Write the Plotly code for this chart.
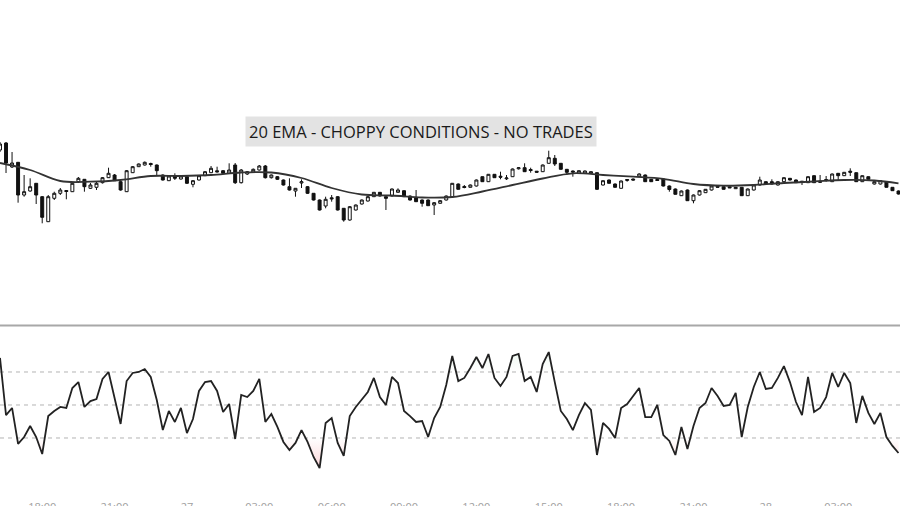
import plotly.graph_objects as go

# ---------------- data ----------------
opens = [150, 157, 133, 137.7, 105, 109, 116.7, 103.3, 78.3, 101.7,
         106.7, 109.5, 108.3, 118.3, 120.7, 111.7, 112.7, 117.3, 122.3, 125,
         118.3, 108.3, 127.3, 133.3, 135, 136.5, 135, 125, 119.3, 124.3,
         121, 123.3, 115.7, 120, 124.3, 127.3, 129.2, 129.3, 126.7, 135,
         117.3, 126, 128, 130, 134, 122.3, 123.3, 120, 113.3, 109,
         117, 113.3, 106.7, 100, 94, 102.2, 103.3, 91.7, 80, 90,
         96, 99, 103.3, 107.7, 103.3, 104, 107.7, 109.3, 104, 102.3,
         100, 100, 95, 96.7, 100, 103.3, 116, 113.5, 112.7, 114,
         123.3, 118.3, 125.7, 123.8, 121.2, 123.3, 131.2, 132.3, 130.5, 128.8,
         128.3, 136.7, 141.7, 136.7, 130.7, 129, 126.7, 126.7, 126.7, 127.3,
         115, 120, 116, 111.7, 119.5, 121, 123.3, 125, 120.7, 120.5,
         121, 114, 111, 104.3, 110, 99.3, 105, 107.3, 110, 113.8,
         113.3, 113.2, 111.3, 112.7, 104.3, 110, 115, 118.3, 118.3, 115,
         118.3, 121.7, 120, 118.8, 117.3, 124.3, 118.8, 120.5, 118.3, 126.7,
         124.3, 128.8, 127.3, 118.3, 123.3, 116, 116, 118.3, 112.7, 109]
highs = [158, 158, 148, 138, 125, 121.7, 117, 104, 105, 108.3,
         112, 110, 118, 123, 121, 117, 118.3, 123, 132.3, 126,
         119, 130, 134, 136.5, 138.5, 137.3, 135.5, 125.5, 124.5, 126.7,
         124.5, 124, 120, 125, 129, 134, 133.3, 130, 136.7, 137,
         131, 129, 131.5, 135, 135, 125.5, 124, 120.5, 121.7, 112,
         120.7, 114, 107, 100.5, 103.3, 105, 104, 92, 94, 95.5,
         100.5, 104, 108, 108, 103.5, 111.5, 111.7, 109.5, 104.5, 110,
         100.5, 100.5, 98, 100, 104.5, 117, 116.5, 115, 115.5, 120.5,
         123.5, 126, 126, 128.3, 125, 131.5, 133, 136.7, 132.3, 129,
         135.5, 149.3, 145, 137, 131, 129.5, 129.5, 129.5, 128.5, 127.5,
         119.5, 120.5, 116.5, 119.5, 121, 121.5, 126.7, 125.5, 121, 121,
         121.5, 114.5, 111.5, 109.5, 110.5, 105.5, 110, 111, 114.5, 114,
         113.5, 113.5, 113, 113, 111.5, 115.5, 123.3, 118.5, 120.7, 118.5,
         122.5, 122, 120.5, 119, 123.5, 124.5, 125, 124, 126.5, 127,
         128, 131.7, 127.5, 124.5, 123.5, 118.5, 119.5, 118.5, 113, 109.5]
lows = [148, 127, 132, 97.3, 103.3, 108.3, 96, 76.7, 78, 100,
        105, 100.7, 108, 117, 108.3, 111, 110, 116.5, 122, 119,
        109.3, 108, 127, 133, 134.5, 133.3, 124.3, 119.5, 119, 120,
        120.5, 116, 112.7, 119.5, 124, 127, 127.5, 126, 126, 116,
        116.5, 125, 127.5, 129.5, 121.5, 121.5, 120, 114.5, 109.5, 103.3,
        112, 106, 99.5, 89.5, 91.7, 98.3, 89.5, 78.3, 79.3, 89.5,
        95.5, 98.5, 103, 103.5, 90, 103.5, 107.5, 103, 99.5, 98,
        93.3, 94, 85, 96.5, 99.5, 103, 110.5, 111.7, 112.5, 113.5,
        118, 118, 122, 120.7, 120, 123, 130.5, 128, 127.3, 127.5,
        128, 136.5, 134, 130.5, 125, 123.3, 126.5, 126.5, 126.5, 110,
        114.5, 116.5, 112.5, 111.5, 118.3, 119.5, 123, 118, 118, 119,
        113.5, 108.3, 105.5, 104, 99, 96.7, 104.5, 107, 109.5, 112.5,
        110.5, 112, 111, 104, 104, 109.5, 114.5, 115.5, 115.5, 114.5,
        118, 119.5, 117, 115, 117, 117, 117.5, 118.3, 118, 120,
        124, 124, 118, 118, 120.5, 115.5, 115.5, 112.5, 109, 105.5]
closes = [156, 137, 137, 105, 108.3, 113.3, 105, 82.7, 103.3, 106.7,
          110, 108.5, 116.7, 121.7, 113.3, 115, 116.7, 122.3, 126.7, 119.3,
          110, 129.3, 133.3, 136, 137.7, 135.5, 129.3, 120, 124, 121.7,
          124, 116.7, 119.3, 124.3, 128.3, 131.7, 128.2, 126.7, 130, 117.3,
          130, 128.3, 130.7, 134, 122.3, 125, 120.7, 115, 110, 111.7,
          118.3, 106.7, 100, 90, 100.7, 101.2, 90, 80, 93.3, 95,
          100, 103.3, 107.7, 104, 101.7, 111, 110, 103.3, 100, 98.3,
          96.7, 94.3, 97.3, 99.3, 104, 116.7, 110.7, 112.5, 115, 120,
          118.3, 125.7, 122.3, 122.8, 122, 131, 132.2, 128.3, 129.5, 127.8,
          135, 142.3, 136, 130.7, 127.7, 128, 129.3, 129, 128.3, 110.7,
          119.3, 116.7, 112.7, 119, 120.5, 120, 126, 118.3, 118.3, 119.5,
          114, 110.5, 105.7, 109, 99.3, 105, 109.3, 110.7, 114, 112.8,
          110.7, 112.2, 112.7, 104.3, 111, 115, 120, 116, 116, 118.3,
          122.3, 120, 117.3, 117.8, 123.3, 117.3, 117.8, 119.5, 126, 124.3,
          127.7, 127.8, 118.3, 124.3, 120.7, 118.3, 119.3, 112.7, 109.3, 106]

ema_idx = [0, 5, 10, 15, 20, 25, 30, 35, 40, 45, 50, 55, 60, 65, 70, 75,
           80, 85, 90, 95, 100, 105, 110, 115, 120, 125, 130, 135, 140, 145, 149]
ema_vals = [137, 130, 119, 118.3, 120, 124, 124, 125, 127.5, 127.5, 122, 112,
            105.5, 104.5, 102.5, 103, 108.5, 115, 121.5, 126.7, 125, 123.3,
            121.2, 116, 114.3, 115, 117, 118.5, 120, 119.5, 116.7]

rsi = [78.5, 43.9, 48.2, 26.4, 30.6, 37.3, 30.6, 20.3, 43.3, 46.4,
       48.8, 48.2, 60.3, 63.9, 48.8, 52.4, 53.6, 65.8, 70.0, 54.2,
       38.5, 64.5, 69.4, 70.0, 71.8, 67.0, 53.0, 34.8, 46.4, 39.7,
       48.2, 33.0, 41.5, 58.5, 63.9, 64.5, 58.5, 45.8, 50.6, 29.4,
       56.1, 54.8, 58.5, 65.8, 39.7, 44.5, 36.7, 27.6, 22.7, 27.0,
       34.8, 27.6, 18.5, 11.8, 39.1, 42.1, 27.0, 19.1, 43.3, 48.8,
       53.6, 57.9, 66.4, 54.8, 50.0, 67.0, 63.3, 46.4, 43.3, 39.7,
       40.3, 30.6, 42.1, 48.8, 62.1, 79.7, 64.5, 66.4, 72.4, 79.1,
       72.4, 80.9, 66.4, 61.5, 67.0, 79.7, 80.9, 64.5, 67.0, 57.9,
       74.8, 82.1, 63.9, 46.4, 41.5, 34.8, 43.9, 51.2, 47.0, 19.7,
       39.1, 35.5, 30.0, 48.2, 50.6, 55.5, 60.3, 42.7, 42.7, 50.0,
       31.8, 28.2, 19.7, 36.7, 23.3, 37.3, 48.2, 51.2, 60.3, 55.5,
       49.4, 50.0, 57.3, 30.6, 48.8, 60.9, 70.0, 59.7, 60.3, 66.4,
       73.6, 63.9, 51.8, 43.9, 67.0, 45.8, 48.2, 54.8, 69.4, 60.9,
       69.4, 63.3, 39.1, 55.5, 45.2, 38.5, 45.2, 30.6, 25.2, 20.9]

tick_idx = [7, 19, 31, 43, 55, 67, 79, 91, 103, 115, 127, 139]
tick_text = ["18:00", "21:00", "27", "03:00", "06:00", "09:00",
             "12:00", "15:00", "18:00", "21:00", "28", "03:00"]
levels = [30, 50, 70]
oversold, overbought = 30, 70

x = list(range(len(closes)))


def clipped(xs, ys, level, below=True):
    px, py = [], []
    for i in range(len(xs)):
        if i > 0:
            y0, y1 = ys[i - 1], ys[i]
            if (y0 - level) * (y1 - level) < 0:
                t = (level - y0) / (y1 - y0)
                px.append(xs[i - 1] + t * (xs[i] - xs[i - 1]))
                py.append(level)
        px.append(xs[i])
        py.append(min(ys[i], level) if below else max(ys[i], level))
    return px, py


fig = go.Figure()

fig.add_trace(go.Candlestick(
    x=x, open=opens, high=highs, low=lows, close=closes,
    increasing=dict(line=dict(color="#111111", width=1), fillcolor="#ffffff"),
    decreasing=dict(line=dict(color="#111111", width=1), fillcolor="#111111"),
    whiskerwidth=0, showlegend=False, xaxis="x", yaxis="y"))

fig.add_trace(go.Scatter(
    x=ema_idx, y=ema_vals, mode="lines", line=dict(color="#333333", width=1.8, shape="spline"),
    showlegend=False, hoverinfo="skip", xaxis="x", yaxis="y"))

# oversold gradient fill
lx, ly = clipped(x, rsi, oversold, below=True)
fig.add_trace(go.Scatter(x=[x[0], x[-1]], y=[oversold, oversold], mode="lines",
                         line=dict(width=0), showlegend=False, hoverinfo="skip",
                         xaxis="x2", yaxis="y2"))
fig.add_trace(go.Scatter(x=lx, y=ly, mode="lines", line=dict(width=0), fill="tonexty",
                         fillgradient=dict(type="vertical", start=0, stop=oversold,
                                           colorscale=[[0, "rgba(240,70,80,0.6)"],
                                                       [0.5, "rgba(240,70,80,0.18)"],
                                                       [1, "rgba(240,70,80,0)"]]),
                         showlegend=False, hoverinfo="skip", xaxis="x2", yaxis="y2"))
# overbought gradient fill
ux, uy = clipped(x, rsi, overbought, below=False)
fig.add_trace(go.Scatter(x=[x[0], x[-1]], y=[overbought, overbought], mode="lines",
                         line=dict(width=0), showlegend=False, hoverinfo="skip",
                         xaxis="x2", yaxis="y2"))
fig.add_trace(go.Scatter(x=ux, y=uy, mode="lines", line=dict(width=0), fill="tonexty",
                         fillgradient=dict(type="vertical", start=overbought, stop=100,
                                           colorscale=[[0, "rgba(60,180,90,0)"],
                                                       [0.5, "rgba(60,180,90,0.10)"],
                                                       [1, "rgba(60,180,90,0.35)"]]),
                         showlegend=False, hoverinfo="skip", xaxis="x2", yaxis="y2"))

fig.add_trace(go.Scatter(
    x=x, y=rsi, mode="lines", line=dict(color="#222222", width=1.8),
    showlegend=False, hoverinfo="skip", xaxis="x2", yaxis="y2"))

for lv in levels:
    fig.add_shape(type="line", xref="x2 domain", yref="y2", x0=0, x1=1, y0=lv, y1=lv,
                  line=dict(color="#b4b4b4", width=1, dash="4px,4px"), layer="below")

# panel divider
fig.add_shape(type="line", xref="paper", yref="paper", x0=0, x1=1, y0=0.3477, y1=0.3477,
              line=dict(color="#a8a8a8", width=2))

fig.add_annotation(text="20 EMA - CHOPPY CONDITIONS - NO TRADES",
                   xref="paper", yref="paper", x=0.468, y=0.7355, showarrow=False,
                   xanchor="center", yanchor="middle",
                   font=dict(family="Open Sans", size=16.5, color="#1a1a1a"),
                   bgcolor="#e3e3e3", borderpad=3)

xr = [0, 149.25]
fig.update_layout(
    template="none",
    width=900, height=506,
    margin=dict(l=0, r=0, t=0, b=7, autoexpand=False),
    paper_bgcolor="white", plot_bgcolor="white",
    showlegend=False,
    xaxis=dict(domain=[0, 1], anchor="y", range=xr, showticklabels=False, showgrid=False,
               zeroline=False, showline=False, ticks="", automargin=False,
               rangeslider=dict(visible=False)),
    yaxis=dict(domain=[0.3527, 1], range=[-23, 300], showticklabels=False, showgrid=False,
               zeroline=False, showline=False, ticks="", automargin=False),
    xaxis2=dict(domain=[0, 1], anchor="y2", range=xr, tickmode="array", tickvals=tick_idx,
                ticktext=tick_text, showgrid=False, zeroline=False, showline=False, ticks="",
                automargin=False,
                tickfont=dict(family="Open Sans", size=11, color="#a0a0a0")),
    yaxis2=dict(domain=[0, 0.3487], range=[-6.97, 98.48], showticklabels=False, showgrid=False,
                zeroline=False, showline=False, ticks="", automargin=False),
)

fig.write_html("out.html")
